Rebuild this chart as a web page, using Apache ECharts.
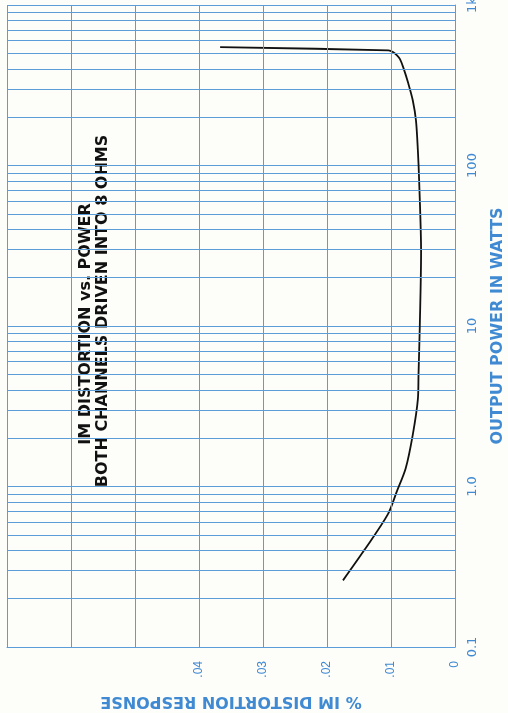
<!DOCTYPE html>
<html>
<head>
<meta charset="utf-8">
<script src="https://cdn.jsdelivr.net/npm/echarts@6/dist/echarts.min.js"></script>
<style>
html,body{margin:0;padding:0;background:#fdfdf9;}
#chart{width:508px;height:713px;}
</style>
</head>
<body>
<div id="chart"></div>
<script>
// Curve: output power (W) and % IM distortion
const powerW = [0.26, 0.40, 0.67, 0.93, 1.3, 2.1, 3.5, 5, 10, 29, 80, 124, 191, 255, 325, 410, 460, 487, 510, 522, 546];
const imdPct = [0.0175, 0.0142, 0.0105, 0.0091, 0.0077, 0.0066, 0.0058, 0.0057, 0.0055, 0.0053, 0.0056, 0.0058, 0.0061, 0.0066, 0.0073, 0.0081, 0.0086, 0.0091, 0.0097, 0.0104, 0.0367];

// Power axis (log) tick labels
const powerTicks = [0.1, 1, 10, 100, 1000];
const powerTickLabels = ['0.1', '1.0', '10', '100', '1k'];
// Minor grid lines of the log paper
const powerMinor = [0.2,0.3,0.4,0.5,0.6,0.7,0.8,0.9, 2,3,4,5,6,7,8,9, 20,30,40,50,60,70,80,90, 200,300,400,500,600,700,800,900];
// Distortion axis tick labels and grid lines
const imdTicks = [0, 0.01, 0.02, 0.03, 0.04];
const imdTickLabels = ['0', '.01', '.02', '.03', '.04'];
const imdGrid = [0.01, 0.02, 0.03, 0.04, 0.05, 0.06, 0.07];

const gridBlue = '#5b9cd9';
const labelBlue = '#3f8ad2';

const chart = echarts.init(document.getElementById('chart'));
const curve = powerW.map((p, i) => [imdPct[i], p]);

chart.setOption({
  backgroundColor: '#fdfdf9',
  animation: false,
  grid: {left: 7, right: 53, top: 5, bottom: 66, containLabel: false, outerBoundsMode: 'none'},
  xAxis: {
    type: 'value', inverse: true, min: 0, max: 0.07, interval: 0.01,
    name: '% IM DISTORTION RESPONSE', nameLocation: 'middle', nameRotate: 180, nameGap: 46,
    nameTextStyle: {color: labelBlue, fontFamily: 'DejaVu Sans', fontWeight: 'bold', fontSize: 16},
    axisLine: {show: true, lineStyle: {color: gridBlue, width: 1}},
    axisTick: {show: false},
    splitLine: {show: false},
    axisLabel: {
      rotate: 90, margin: 14, color: labelBlue, fontFamily: 'Liberation Sans', fontSize: 12,
      formatter: function (v) {
        for (let i = 0; i < imdTicks.length; i++) if (Math.abs(v - imdTicks[i]) < 1e-9) return imdTickLabels[i];
        return '';
      }
    }
  },
  yAxis: {
    type: 'log', logBase: 10, min: 0.1, max: 1000, position: 'right',
    name: 'OUTPUT POWER IN WATTS', nameLocation: 'middle', nameRotate: 90, nameGap: 35,
    nameTextStyle: {color: labelBlue, fontFamily: 'DejaVu Sans', fontWeight: 'bold', fontSize: 16},
    axisLine: {show: true, lineStyle: {color: gridBlue, width: 1}},
    axisTick: {show: false},
    splitLine: {show: true, lineStyle: {color: [gridBlue], width: 1}},
    axisLabel: {
      rotate: 90, margin: 11, color: labelBlue, fontFamily: 'DejaVu Sans', fontSize: 13,
      formatter: function (v) {
        for (let i = 0; i < powerTicks.length; i++) if (Math.abs(Math.log10(v) - Math.log10(powerTicks[i])) < 1e-6) return powerTickLabels[i];
        return '';
      }
    }
  },
  graphic: [
    {type: 'text', x: 86, y: 324, rotation: Math.PI / 2,
     style: {text: 'IM DISTORTION vs. POWER', fill: '#111', font: 'bold 16px "DejaVu Sans"', align: 'center', verticalAlign: 'middle'}},
    {type: 'text', x: 103, y: 311, rotation: Math.PI / 2,
     style: {text: 'BOTH CHANNELS DRIVEN INTO 8 OHMS', fill: '#111', font: 'bold 16px "DejaVu Sans"', align: 'center', verticalAlign: 'middle'}}
  ],
  series: [
    {
      type: 'line', data: [], silent: true,
      markLine: {
        silent: true, symbol: 'none', label: {show: false},
        lineStyle: {color: gridBlue, width: 1, type: 'solid'},
        data: powerMinor.map(v => ({yAxis: v})).concat(imdGrid.map(v => ({xAxis: v})))
      }
    },
    {
      type: 'line', data: curve, smooth: 0.3, symbol: 'none', silent: true,
      lineStyle: {color: '#111', width: 1.8}
    }
  ]
});
</script>
</body>
</html>
